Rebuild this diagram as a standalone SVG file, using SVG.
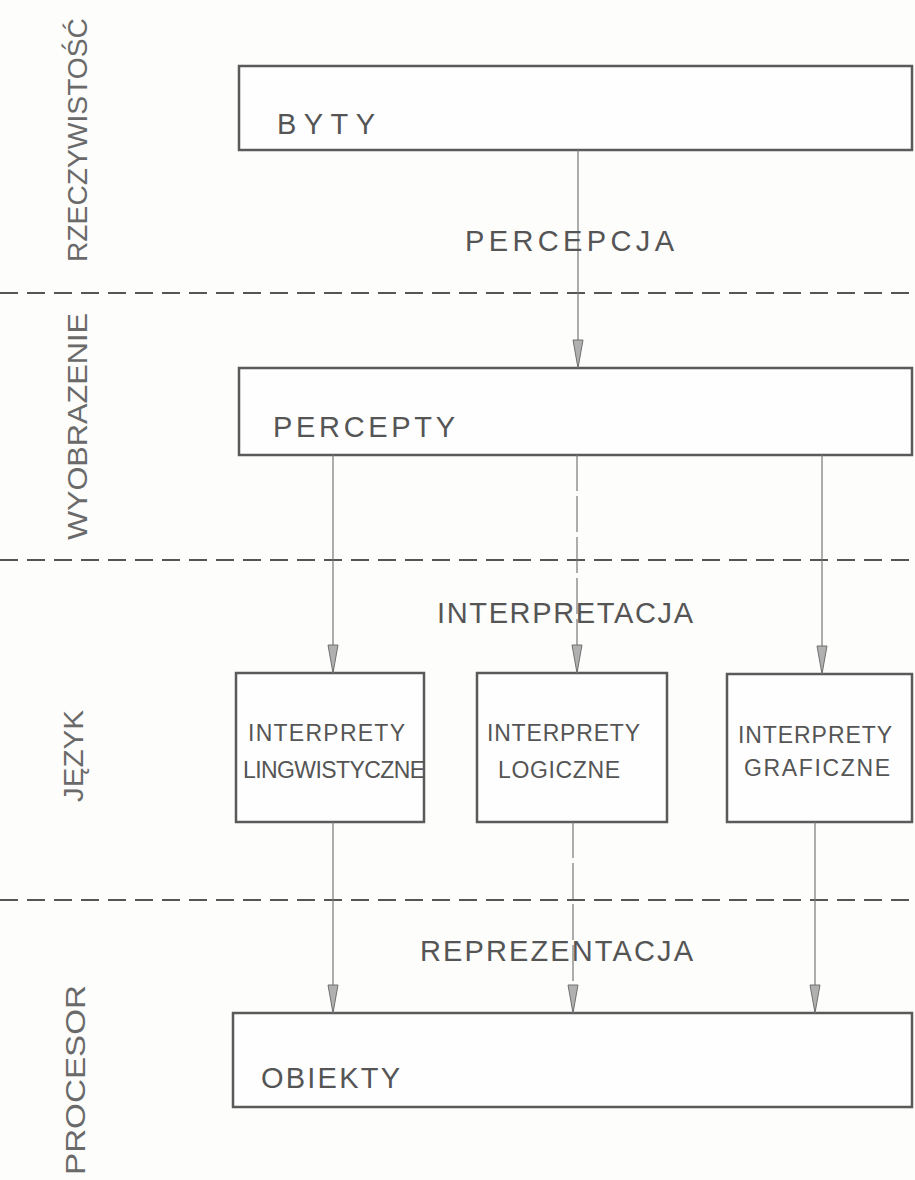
<svg xmlns="http://www.w3.org/2000/svg" width="915" height="1180" viewBox="0 0 915 1180">
<style>
.bg{fill:#fdfdfb}
.box{fill:#fefefe;stroke:#5a5a5a;stroke-width:2.5}
.lbl{font-family:"Liberation Sans",Arial,sans-serif;fill:#555;font-size:29px}
.small{font-size:23px}
.side{font-family:"Liberation Sans",Arial,sans-serif;fill:#6a6a6a;font-size:27px}
.sep{stroke:#555;stroke-width:2;stroke-dasharray:18 9;fill:none}
.con{stroke:#777;stroke-width:1.2;fill:none;marker-end:url(#ah)}
.dash{stroke-dasharray:36 5}
</style>
<defs>
<marker id="ah" viewBox="0 -6 30 12" markerWidth="30" markerHeight="12" refX="29" refY="0" orient="auto" markerUnits="userSpaceOnUse">
<path d="M1,-5 L29,0 L1,5 Z" fill="#b0b0b0" stroke="#707070" stroke-width="1"/>
</marker>
</defs>
<rect class="bg" x="0" y="0" width="915" height="1180"/>

<g id="separators">
<line class="sep" x1="0" y1="293" x2="915" y2="293"/>
<line class="sep" x1="0" y1="560" x2="915" y2="560"/>
<line class="sep" x1="0" y1="900" x2="915" y2="900"/>
</g>

<g id="side-labels">
<text class="side" transform="translate(87,262) rotate(-90)" textLength="244" lengthAdjust="spacingAndGlyphs">RZECZYWISTOŚĆ</text>
<text class="side" transform="translate(87,540) rotate(-90)" textLength="227" lengthAdjust="spacingAndGlyphs">WYOBRAZENIE</text>
<text class="side" transform="translate(83,802) rotate(-90)" textLength="92" lengthAdjust="spacingAndGlyphs">JĘZYK</text>
<text class="side" transform="translate(85,1175) rotate(-90)" textLength="190" lengthAdjust="spacingAndGlyphs">PROCESOR</text>
</g>

<g id="byty">
<rect class="box" x="239" y="66" width="673" height="84"/>
<text class="lbl" x="277" y="134" textLength="98" lengthAdjust="spacing">BYTY</text>
</g>

<g id="percepty">
<rect class="box" x="239" y="368" width="673" height="87"/>
<text class="lbl" x="273" y="437" textLength="182" lengthAdjust="spacing">PERCEPTY</text>
</g>

<g id="interprety-lingwistyczne">
<rect class="box" x="236" y="673" width="188" height="149"/>
<text class="lbl small" x="248" y="741" textLength="157" lengthAdjust="spacing">INTERPRETY</text>
<text class="lbl small" x="243" y="778" textLength="182" lengthAdjust="spacing">LINGWISTYCZNE</text>
</g>

<g id="interprety-logiczne">
<rect class="box" x="477" y="673" width="190" height="149"/>
<text class="lbl small" x="487" y="741" textLength="153" lengthAdjust="spacing">INTERPRETY</text>
<text class="lbl small" x="498" y="778" textLength="122" lengthAdjust="spacing">LOGICZNE</text>
</g>

<g id="interprety-graficzne">
<rect class="box" x="727" y="674" width="185" height="148"/>
<text class="lbl small" x="738" y="743" textLength="154" lengthAdjust="spacing">INTERPRETY</text>
<text class="lbl small" x="744" y="776" textLength="146" lengthAdjust="spacing">GRAFICZNE</text>
</g>

<g id="obiekty">
<rect class="box" x="233" y="1013" width="679" height="94"/>
<text class="lbl" x="261" y="1088" textLength="139" lengthAdjust="spacing">OBIEKTY</text>
</g>

<g id="connectors">
<line class="con" x1="578" y1="150" x2="578" y2="368"/>
<line class="con" x1="333" y1="455" x2="333" y2="673"/>
<line class="con dash" x1="577" y1="455" x2="577" y2="673"/>
<line class="con" x1="822" y1="455" x2="822" y2="674"/>
<line class="con" x1="333" y1="822" x2="333" y2="1013"/>
<line class="con dash" x1="573" y1="822" x2="573" y2="1013"/>
<line class="con" x1="815" y1="822" x2="815" y2="1013"/>
</g>

<g id="connector-labels">
<text class="lbl" x="465" y="251" textLength="209" lengthAdjust="spacing">PERCEPCJA</text>
<text class="lbl" x="437" y="623" textLength="256" lengthAdjust="spacing">INTERPRETACJA</text>
<text class="lbl" x="420" y="961" textLength="273" lengthAdjust="spacing">REPREZENTACJA</text>
</g>
</svg>
